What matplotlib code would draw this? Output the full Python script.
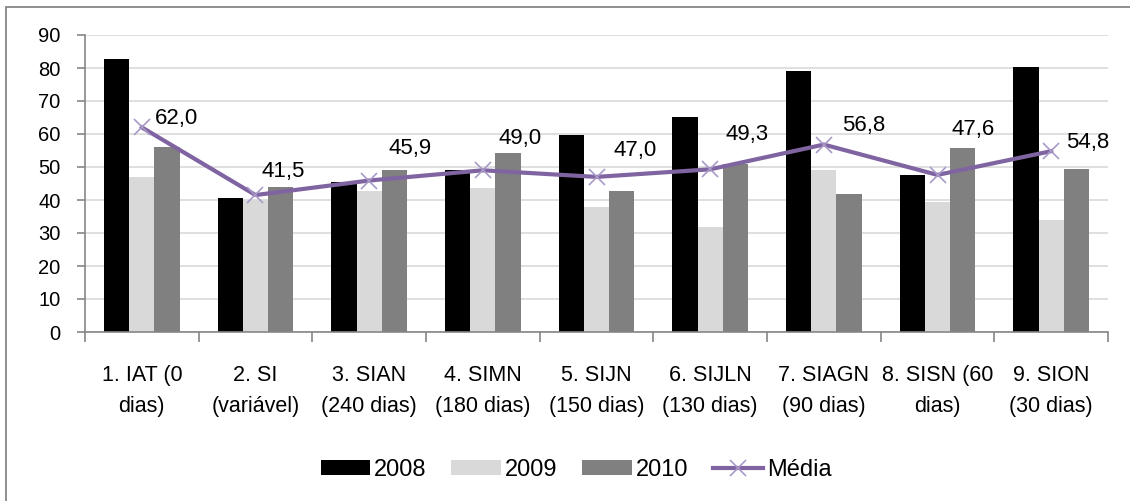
import matplotlib
matplotlib.use("Agg")
import matplotlib.pyplot as plt
import numpy as np
from matplotlib.patches import Rectangle, Patch
from matplotlib.lines import Line2D

plt.rcParams['font.family'] = ['Liberation Sans', 'DejaVu Sans']

categories = ["1. IAT (0\ndias)", "2. SI\n(variável)", "3. SIAN\n(240 dias)", "4. SIMN\n(180 dias)",
              "5. SIJN\n(150 dias)", "6. SIJLN\n(130 dias)", "7. SIAGN\n(90 dias)",
              "8. SISN (60\ndias)", "9. SION\n(30 dias)"]
series_names = ["2008", "2009", "2010"]
v2008 = [82.6, 40.5, 45.6, 49.1, 59.7, 65.1, 79.1, 47.6, 80.2]
v2009 = [47.1, 40.0, 42.8, 43.5, 37.8, 31.9, 49.1, 39.5, 33.9]
v2010 = [56.2, 44.0, 49.1, 54.1, 42.8, 50.9, 41.7, 55.7, 49.5]
media = [62.0, 41.5, 45.9, 49.0, 47.0, 49.3, 56.8, 47.6, 54.8]
media_name = "Média"
yticks = [0, 10, 20, 30, 40, 50, 60, 70, 80, 90]

# label offsets (pixels, right / up) for the average labels (styling only)
label_offsets = [(35, 9), (28, 24), (41, 32), (37, 32), (39, 26), (37, 35), (40, 19), (36, 45), (37, 9)]

colors = ["#000000", "#d9d9d9", "#808080"]
line_color = "#8064A2"
marker_color = "#A899C8"

W, H = 1130, 501
fig = plt.figure(figsize=(W / 100, H / 100), dpi=100)
# outer chart frame (left and top edges visible)
fig.patches.append(Rectangle((6 / W, -0.1), 1.2, 1 - 7 / H + 0.1, transform=fig.transFigure,
                             fill=False, edgecolor="#868686", linewidth=1.3))
ax = fig.add_axes([85 / W, 1 - 332 / H, (1108 - 85) / W, (332 - 35) / H])

x = np.arange(len(categories))
bw = 0.222
for k, (vals, c, name) in enumerate(zip([v2008, v2009, v2010], colors, series_names)):
    ax.bar(x + (k - 1) * bw, vals, width=bw, color=c, label=name, zorder=2)

ax.plot(x, media, color=line_color, linewidth=3, marker='x', markersize=12,
        markeredgecolor=marker_color, markeredgewidth=1.2, zorder=4, label=media_name)

for xi, m, (dx, dy) in zip(x, media, label_offsets):
    ax.annotate(f"{m:.1f}".replace('.', ','), (xi, m), xytext=(dx * 0.72, dy * 0.72),
                textcoords='offset points', ha='center', va='center', fontsize=16, zorder=5)

ax.set_xlim(-0.5, len(categories) - 0.5)
ax.set_ylim(0, 90)
ax.set_yticks(yticks)
ax.yaxis.grid(True, color="#d9d9d9", linewidth=1.2, zorder=0)
ax.set_axisbelow(True)
for s in ["top", "right"]:
    ax.spines[s].set_visible(False)
for s in ["left", "bottom"]:
    ax.spines[s].set_color("#868686")
    ax.spines[s].set_linewidth(1.2)

ax.set_xticks(np.arange(len(categories) + 1) - 0.5)
ax.set_xticklabels([])
ax.set_xticks(x, minor=True)
ax.set_xticklabels(categories, minor=True, fontsize=15.5, linespacing=1.6)
ax.tick_params(axis='x', which='major', length=7, color="#868686", width=1.2, direction='out')
ax.tick_params(axis='x', which='minor', length=0, pad=24)
ax.tick_params(axis='y', length=5.5, color="#868686", width=1.2, labelsize=14.5, pad=12)

handles = [Patch(facecolor=c, label=n) for c, n in zip(colors, series_names)]
handles.append(Line2D([], [], color=line_color, linewidth=3, marker='x', markersize=12,
                      markeredgecolor=marker_color, markeredgewidth=1.2, label=media_name))
fig.legend(handles=handles, loc='center', bbox_to_anchor=(576 / W, 1 - 470 / H), ncol=4,
           frameon=False, fontsize=17, handlelength=2.1, handleheight=0.6,
           handletextpad=0.17, columnspacing=1.05, borderpad=0)

fig.savefig("out.png", dpi=100)
